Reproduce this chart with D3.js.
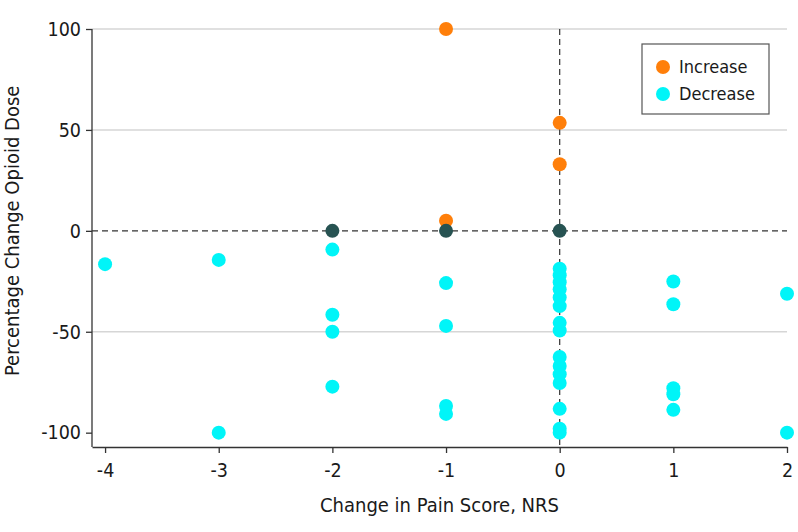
<!DOCTYPE html>
<html>
<head>
<meta charset="utf-8">
<script src="https://cdn.jsdelivr.net/npm/d3@7"></script>
<style>
  html, body { margin: 0; padding: 0; background: #fff; }
  svg { display: block; }
  text { font-family: "DejaVu Sans Condensed", "Liberation Sans Narrow", "DejaVu Sans", sans-serif; fill: #1a1a1a; }
</style>
</head>
<body>
<svg id="chart" width="798" height="532"></svg>
<script>
// ---- data ----
const xTicks = [-4, -3, -2, -1, 0, 1, 2];
const yTicks = [-100, -50, 0, 50, 100];
const gridValues = [100, 50, -50];

const increaseX = [-1, -1, 0, 0];
const increaseY = [100, 5, 53.5, 33];

const noChangeX = [-2, -1, 0];
const noChangeY = [0, 0, 0];

const decreaseX = [-4, -3, -3, -2, -2, -2, -2, -1, -1, -1, -1,
  0, 0, 0, 0, 0, 0, 0, 0, 0, 0, 0, 0, 0, 0, 0,
  1, 1, 1, 1, 1, 2, 2];
const decreaseY = [-16.5, -14.4, -100, -9.3, -41.6, -50, -77.2, -25.9, -47.1, -86.8, -90.7,
  -18.8, -22, -25.5, -29, -33, -37.3, -45.6, -49.4, -62.5, -67, -71, -75.4, -88.2, -98, -100,
  -25.1, -36.4, -78, -81, -88.7, -31.2, -100];

const legendLabels = ["Increase", "Decrease"];
const colors = { increase: "#ff7f0a", decrease: "#00f5f8", none: "#275352" };

// ---- layout ----
const svg = d3.select("#chart");
const mLeft = 92, mRight = 787, mTop = 29, mBottom = 447;
const x = d3.scaleLinear().domain([-4.115, 2]).range([mLeft, mRight]);
const y = d3.scaleLinear().domain([-107.1, 100]).range([mBottom, mTop]);

// gridlines
svg.append("g").selectAll("line").data(gridValues).join("line")
  .attr("x1", mLeft).attr("x2", mRight)
  .attr("y1", d => y(d)).attr("y2", d => y(d))
  .attr("stroke", "#d6d6d6").attr("stroke-width", 1.5);

// dashed reference lines
svg.append("line")
  .attr("x1", mLeft).attr("x2", mRight).attr("y1", y(0)).attr("y2", y(0))
  .attr("stroke", "#333").attr("stroke-width", 1.2).attr("stroke-dasharray", "6,4");
svg.append("line")
  .attr("x1", x(0)).attr("x2", x(0)).attr("y1", y(100)).attr("y2", mBottom)
  .attr("stroke", "#333").attr("stroke-width", 1.2).attr("stroke-dasharray", "6,4");

// axes
const xAxis = svg.append("g").attr("transform", `translate(0,${mBottom})`)
  .call(d3.axisBottom(x).tickValues(xTicks).tickSize(6).tickPadding(10).tickSizeOuter(0).tickFormat(d3.format("d")));
const yAxis = svg.append("g").attr("transform", `translate(${mLeft},0)`)
  .call(d3.axisLeft(y).tickValues(yTicks).tickSize(6).tickPadding(5).tickSizeOuter(0).tickFormat(d3.format("d")));
[xAxis, yAxis].forEach(a => {
  a.select(".domain").attr("stroke", "#333").attr("stroke-width", 1.3);
  a.selectAll(".tick line").attr("stroke", "#333").attr("stroke-width", 1.3);
  a.selectAll(".tick text").attr("font-size", 19.5).attr("fill", "#1a1a1a")
    .style("font-family", '"DejaVu Sans Condensed", "Liberation Sans Narrow", sans-serif');
});
xAxis.selectAll(".tick text").text(d => d < 0 ? "-" + Math.abs(d) : d);
yAxis.selectAll(".tick text").text(d => d < 0 ? "-" + Math.abs(d) : d);
yAxis.select(".domain").attr("d", `M0,${y(100)}V${mBottom}`);

// points
const r = 7;
const dec = decreaseX.map((d, i) => ({ x: d, y: decreaseY[i] }));
const inc = increaseX.map((d, i) => ({ x: d, y: increaseY[i] }));
const non = noChangeX.map((d, i) => ({ x: d, y: noChangeY[i] }));
svg.append("g").selectAll("circle").data(dec).join("circle")
  .attr("cx", d => x(d.x)).attr("cy", d => y(d.y)).attr("r", r).attr("fill", colors.decrease);
svg.append("g").selectAll("circle").data(inc).join("circle")
  .attr("cx", d => x(d.x)).attr("cy", d => y(d.y)).attr("r", r).attr("fill", colors.increase);
svg.append("g").selectAll("circle").data(non).join("circle")
  .attr("cx", d => x(d.x)).attr("cy", d => y(d.y)).attr("r", r).attr("fill", colors.none);

// axis titles
svg.append("text").attr("x", (mLeft + mRight) / 2).attr("y", 512)
  .attr("text-anchor", "middle").attr("font-size", 20).text("Change in Pain Score, NRS");
svg.append("text").attr("transform", `translate(19,${y(0)}) rotate(-90)`)
  .attr("text-anchor", "middle").attr("font-size", 20).text("Percentage Change Opioid Dose");

// legend
const lg = svg.append("g");
lg.append("rect").attr("x", 642).attr("y", 44).attr("width", 127).attr("height", 70)
  .attr("fill", "#fff").attr("stroke", "#555").attr("stroke-width", 1.2);
const legendColors = [colors.increase, colors.decrease];
legendLabels.forEach((lab, i) => {
  const cy = 67 + i * 27;
  lg.append("circle").attr("cx", 663).attr("cy", cy).attr("r", 7).attr("fill", legendColors[i]);
  lg.append("text").attr("x", 679).attr("y", cy).attr("dy", "0.36em")
    .attr("font-size", 18).text(lab);
});
</script>
</body>
</html>
